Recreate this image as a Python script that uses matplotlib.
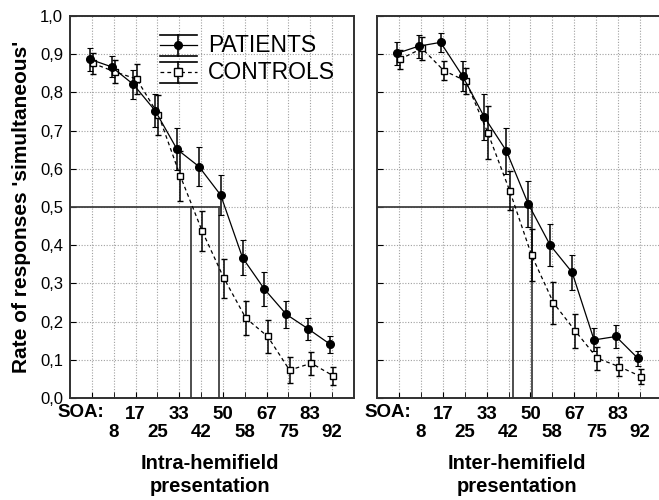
import numpy as np
import matplotlib.pyplot as plt
from matplotlib.transforms import blended_transform_factory

plt.rcParams["font.family"] = ["Liberation Sans", "DejaVu Sans"]

# SOA (ms); first position is labelled "SOA:"
soa = [0, 8, 17, 25, 33, 42, 50, 58, 67, 75, 83, 92]
pos = np.arange(1, len(soa) + 1)

# Intra-hemifield presentation
intra_pat = [0.887, 0.867, 0.821, 0.752, 0.651, 0.606, 0.531, 0.367, 0.285, 0.219, 0.181, 0.141]
intra_pat_err = [0.030, 0.027, 0.037, 0.043, 0.055, 0.050, 0.053, 0.046, 0.044, 0.035, 0.028, 0.022]
intra_con = [0.876, 0.854, 0.835, 0.741, 0.581, 0.437, 0.313, 0.209, 0.161, 0.073, 0.091, 0.058]
intra_con_err = [0.028, 0.030, 0.040, 0.052, 0.065, 0.053, 0.052, 0.044, 0.044, 0.035, 0.030, 0.024]
intra_thr = {"controls": 38.0, "patients": 48.7}

# Inter-hemifield presentation
inter_pat = [0.902, 0.921, 0.931, 0.843, 0.735, 0.647, 0.508, 0.400, 0.329, 0.152, 0.161, 0.104]
inter_pat_err = [0.030, 0.030, 0.025, 0.040, 0.060, 0.060, 0.060, 0.055, 0.045, 0.030, 0.030, 0.020]
inter_con = [0.887, 0.915, 0.857, 0.830, 0.695, 0.543, 0.374, 0.249, 0.175, 0.104, 0.082, 0.056]
inter_con_err = [0.025, 0.030, 0.025, 0.035, 0.070, 0.050, 0.068, 0.055, 0.045, 0.030, 0.025, 0.020]
inter_thr = {"controls": 43.5, "patients": 50.4}

W, H = 659, 500
fig = plt.figure(figsize=(W / 100, H / 100), dpi=100)


def px_axes(x0, x1, y0, y1):
    return fig.add_axes([x0 / W, 1 - y1 / H, (x1 - x0) / W, (y1 - y0) / H])


ax1 = px_axes(70, 354, 16, 398)
ax2 = px_axes(377, 662, 16, 398)

tick_font = ["Liberation Sans Narrow", "Liberation Sans", "DejaVu Sans"]


def draw_panel(ax, pat, pat_err, con, con_err, thr, ylabels):
    ax.set_xlim(0, 13)
    ax.set_ylim(0, 1.0)
    # threshold lines
    xp = np.interp(thr["patients"], soa, pos)
    xc = np.interp(thr["controls"], soa, pos)
    ax.plot([0, xp], [0.5, 0.5], color="#404040", lw=1.3, zorder=2)
    ax.plot([xp, xp], [0, 0.5], color="#404040", lw=1.3, zorder=2)
    ax.plot([xc, xc], [0, 0.5], color="#404040", lw=1.3, zorder=2)

    ax.errorbar(pos + 0.05, con, yerr=con_err, color="black", ls=(0, (3, 2.5)),
                lw=0.9, marker="s", ms=5, mfc="white", mec="black", mew=1.0,
                elinewidth=1.1, capsize=2.5, capthick=0.8, zorder=3)
    ax.errorbar(pos - 0.1, pat, yerr=pat_err, color="black", ls="-",
                lw=0.9, marker="o", ms=5.5, mfc="black", mec="black",
                elinewidth=1.1, capsize=2.5, capthick=0.8, zorder=4)

    # staggered SOA labels
    odd = pos[0::2]
    even = pos[1::2]
    ax.set_xticks(odd[1:], [str(s) for s in soa[2::2]])
    ax.set_xticks(list(even), [str(s) for s in soa[1::2]], minor=True)
    ax.tick_params(axis="x", which="major", direction="in", length=4, pad=6)
    ax.tick_params(axis="x", which="minor", direction="in", length=4, pad=19)
    for lbl in ax.get_xticklabels(which="both"):
        lbl.set_family(tick_font)
        lbl.set_fontweight("bold")
        lbl.set_fontsize(13.5)
    ax.annotate("SOA:", xy=(0.5, 0), xycoords=blended_transform_factory(ax.transData, ax.transAxes),
                xytext=(0, -6 * 0.72), textcoords="offset points", ha="center", va="top",
                family=tick_font, fontweight="bold", fontsize=13.5)
    # extra first gridline at position 1
    ax.axvline(pos[0], color="#a0a0a0", ls=(0, (1, 1.5)), lw=0.8, zorder=0)
    ax.plot([pos[0], pos[0]], [0, 0.012], color="black", lw=0.8, zorder=1)

    ax.set_yticks(np.arange(0, 1.01, 0.1))
    ax.tick_params(axis="y", direction="in", length=4, pad=5)
    if ylabels:
        ax.set_yticklabels([f"{v:.1f}".replace(".", ",") for v in np.arange(0, 1.01, 0.1)],
                           family=tick_font, fontsize=12)
    else:
        ax.set_yticklabels([])
    ax.grid(True, which="both", color="#a0a0a0", ls=(0, (1, 1.5)), lw=0.8)
    ax.set_axisbelow(True)
    for sp in ax.spines.values():
        sp.set_linewidth(1.4)
        sp.set_color("#303030")


draw_panel(ax1, intra_pat, intra_pat_err, intra_con, intra_con_err, intra_thr, True)
draw_panel(ax2, inter_pat, inter_pat_err, inter_con, inter_con_err, inter_thr, False)

# hand-drawn legend in the left panel (axes fraction coordinates)
legend_rows = [("PATIENTS", "-", "o", "black", 0.924), ("CONTROLS", (0, (3, 2.5)), "s", "white", 0.853)]
hx0, hx1 = 0.317, 0.447
cap = 10.5 / 382
for name, ls, mk, face, yy in legend_rows:
    hm = (hx0 + hx1) / 2
    ax1.plot([hx0, hx1], [yy, yy], transform=ax1.transAxes, color="black", ls=ls, lw=0.9)
    ax1.plot([hx0, hx1], [yy + cap, yy + cap], transform=ax1.transAxes, color="black", lw=1.2)
    ax1.plot([hx0, hx1], [yy - cap, yy - cap], transform=ax1.transAxes, color="black", lw=1.2)
    ax1.plot([hm, hm], [yy - cap, yy + cap], transform=ax1.transAxes, color="black", lw=1.2)
    ax1.plot([hm], [yy], transform=ax1.transAxes, marker=mk, ms=5.5, mfc=face, mec="black", mew=1.0, ls="none")
    ax1.text(0.486, yy, name, transform=ax1.transAxes, ha="left", va="center", fontsize=16.5)

fig.text(22 / W, 1 - 207 / H, "Rate of responses 'simultaneous'", rotation=90,
         ha="center", va="center", fontsize=15, fontweight="bold")
fig.text(210 / W, 1 - 475 / H, "Intra-hemifield\npresentation", ha="center", va="center",
         fontsize=14.5, fontweight="bold", linespacing=1.3)
fig.text(517 / W, 1 - 475 / H, "Inter-hemifield\npresentation", ha="center", va="center",
         fontsize=14.5, fontweight="bold", linespacing=1.3)

fig.savefig("out.png", dpi=100)
